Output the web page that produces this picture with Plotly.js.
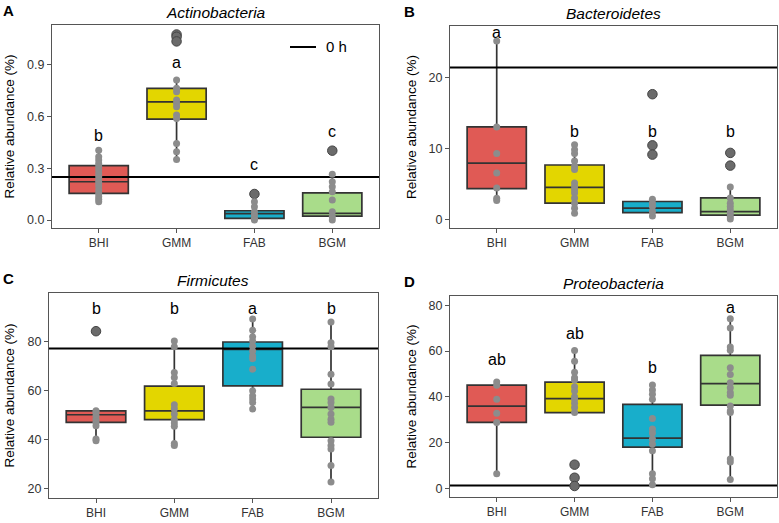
<!DOCTYPE html>
<html><head><meta charset="utf-8">
<script src="https://cdn.plot.ly/plotly-3.0.1.min.js"></script>
<style>body{margin:0;background:#fff}#c{width:779px;height:523px}</style>
</head><body><div id="c"></div>
<script>
const groups = ['BHI','GMM','FAB','BGM'];
const colors = ['#E05A55','#E3D600','#18AECB','#A9DC8A'];
const panelTitles = ['Actinobacteria','Bacteroidetes','Firmicutes','Proteobacteria'];
const panelLabels = ['A','B','C','D'];
const zeroH = [0.25, 21.35, 77.2, 1.43];

// Panel A
const actQ1 = [0.155, 0.585, 0.010, 0.023];
const actMed = [0.222, 0.685, 0.037, 0.039];
const actQ3 = [0.315, 0.763, 0.054, 0.158];
const actLo = [0.106, 0.351, 0.0, 0.0];
const actHi = [0.405, 0.811, 0.106, 0.266];
const actPts = [[0.405,0.367,0.348,0.328,0.309,0.29,0.27,0.251,0.232,0.216,0.197,0.174,0.154,0.135,0.12,0.106],
  [0.811,0.763,0.743,0.695,0.676,0.657,0.608,0.589,0.444,0.396,0.351],
  [0.106,0.077,0.048,0.029,0.01,0.0],
  [0.266,0.222,0.193,0.164,0.116,0.048,0.019,0.0]];
const actOut = [[],[1.075,1.062,1.035],[0.151],[0.402]];
const actLetters = ['b','a','c','c'];
const actLetterY = [0.49,0.913,0.324,0.511];

// Panel B
const bacQ1 = [4.3, 2.26, 0.94, 0.57];
const bacMed = [7.9, 4.48, 1.56, 1.08];
const bacQ3 = [13.0, 7.64, 2.5, 3.0];
const bacLo = [2.64, 0.85, 0.47, 0.05];
const bacHi = [25.1, 10.5, 2.83, 4.53];
const bacPts = [[25.1,12.97,9.25,6.5,4.4,2.97,2.64],
  [10.5,9.8,9.25,8.2,7.45,7.0,5.1,4.6,4.15,3.7,3.0,2.26,1.56,0.85],
  [2.83,2.26,1.8,1.08,0.47],
  [4.53,3.0,2.26,1.8,1.3,0.85,0.38,0.05]];
const bacOut = [[],[],[17.6,10.4,9.1],[9.34,7.55]];
const bacLetters = ['a','b','b','b'];
const bacLetterY = [26.3,12.3,12.3,12.3];

// Panel C
const firQ1 = [47.1, 48.2, 62.0, 41.0];
const firMed = [50.2, 51.8, 76.9, 53.2];
const firQ3 = [51.8, 61.9, 79.9, 60.6];
const firLo = [39.6, 37.6, 52.5, 22.7];
const firHi = [51.8, 80.3, 89.3, 88.1];
const firPts = [[51.8,51.1,49.8,48.4,47.1,45.7,40.3,39.6],
  [80.3,78.0,67.4,65.4,63.0,54.3,52.6,50.5,48.2,46.8,45.5,38.5,37.6],
  [89.3,84.7,82.0,80.3,78.2,76.2,74.2,73.1,68.8,60.0,57.9,56.6,55.2,52.5],
  [88.1,79.6,78.0,66.7,62.7,56.6,55.2,53.2,50.5,48.4,47.1,39.6,37.6,36.2,29.5,22.7]];
const firOut = [[84.3],[],[],[]];
const firLetters = ['b','b','a','b'];
const firLetterY = [93.5,93.5,93.5,93.5];

// Panel D
const proQ1 = [28.9, 33.2, 18.1, 36.4];
const proMed = [36.0, 39.3, 22.1, 45.8];
const proQ3 = [45.2, 46.5, 36.8, 58.1];
const proLo = [6.5, 33.2, 1.7, 4.0];
const proHi = [46.5, 60.2, 45.2, 74.1];
const proPts = [[46.5,45.1,39.0,32.9,28.9,6.5],
  [60.2,55.6,50.8,48.4,47.4,44.5,42.6,40.1,39.0,37.3,35.4,33.2],
  [45.2,43.0,41.2,39.0,30.6,26.0,24.3,21.7,19.5,16.6,6.5,4.3,1.7],
  [74.1,70.0,61.8,60.4,52.7,49.8,46.2,44.0,41.9,40.7,36.1,33.9,33.2,13.0,11.6,4.0]];
const proOut = [[],[10.5,4.8,1.2],[],[]];
const proLetters = ['ab','ab','b','a'];
const proLetterY = [56.3,67.8,52.7,78.9];

const yTicks = [[0,0.3,0.6,0.9],[0,10,20],[20,40,60,80],[0,20,40,60,80]];
const yRanges = [[-0.046,1.13],[-1.23,27.2],[16.2,99.9],[-3.6,84.0]];

const panels = [
  {q1:actQ1,med:actMed,q3:actQ3,lo:actLo,hi:actHi,pts:actPts,out:actOut,let:actLetters,ly:actLetterY},
  {q1:bacQ1,med:bacMed,q3:bacQ3,lo:bacLo,hi:bacHi,pts:bacPts,out:bacOut,let:bacLetters,ly:bacLetterY},
  {q1:firQ1,med:firMed,q3:firQ3,lo:firLo,hi:firHi,pts:firPts,out:firOut,let:firLetters,ly:firLetterY},
  {q1:proQ1,med:proMed,q3:proQ3,lo:proLo,hi:proHi,pts:proPts,out:proOut,let:proLetters,ly:proLetterY}
];

const W = 779, H = 523;
// pixel boxes [left, right, top, bottom]
const boxes = [[52,379,25,228],[450,777,26,228],[49,378,293,498],[450,777,296,497]];
const FONT = 'Liberation Sans, Arial, sans-serif';
const traces = [];
const annotations = [];
const shapes = [];
const layout = {
  width: W, height: H, margin:{l:0,r:0,t:0,b:0},
  paper_bgcolor:'#fff', plot_bgcolor:'#fff', showlegend:false,
  boxmode:'overlay', font:{family:FONT, color:'#333'}
};

panels.forEach((p, i) => {
  const n = i+1;
  const xa = 'x'+(n===1?'':n), ya = 'y'+(n===1?'':n);
  const xk = 'xaxis'+(n===1?'':n), yk = 'yaxis'+(n===1?'':n);
  const [l,r,t,b] = boxes[i];
  layout[xk] = {domain:[l/W, r/W], range:[-0.6,3.6], tickvals:[0,1,2,3], ticktext:groups,
    showline:true, mirror:true, linecolor:'#555', linewidth:1, ticks:'outside', ticklen:4,
    tickcolor:'#555', showgrid:false, zeroline:false, anchor:ya, fixedrange:true,
    tickfont:{size:12, color:'#333', family:FONT}};
  layout[yk] = {domain:[1-b/H, 1-t/H], range:yRanges[i], tickvals:yTicks[i],
    tickformat: i===0 ? '.1f' : 'd',
    showline:true, mirror:true, linecolor:'#555', linewidth:1, ticks:'outside', ticklen:4,
    tickcolor:'#555', showgrid:false, zeroline:false, anchor:xa, fixedrange:true,
    tickfont:{size:12.5, color:'#333', family:FONT}};
  groups.forEach((g, j) => {
    traces.push({type:'box', xaxis:xa, yaxis:ya, x:[j], q1:[p.q1[j]], median:[p.med[j]], q3:[p.q3[j]],
      lowerfence:[p.lo[j]], upperfence:[p.hi[j]], width:0.76, whiskerwidth:0,
      fillcolor:colors[j], line:{color:'#333', width:1.7}, boxpoints:false, hoverinfo:'skip'});
  });
  traces.push({type:'scatter', mode:'lines', xaxis:xa, yaxis:ya, x:[-0.6,3.6], y:[zeroH[i],zeroH[i]],
    line:{color:'#000', width:2}, hoverinfo:'skip'});
  groups.forEach((g, j) => {
    if (p.out[j].length) traces.push({type:'scatter', mode:'markers', xaxis:xa, yaxis:ya,
      x:p.out[j].map(()=>j), y:p.out[j],
      marker:{size:9.5, color:'#6b6b6b', line:{color:'#444', width:1}}, hoverinfo:'skip'});
    traces.push({type:'scatter', mode:'markers', xaxis:xa, yaxis:ya,
      x:p.pts[j].map(()=>j), y:p.pts[j],
      marker:{size:7, color:'#8c8c8c'}, hoverinfo:'skip'});
    annotations.push({xref:xa, yref:ya, x:j, y:p.ly[j], text:p.let[j], showarrow:false,
      font:{size:16, color:'#000', family:FONT}, yanchor:'middle'});
  });
  // title
  annotations.push({xref:'paper', yref:'paper', x:((l+r)/2)/W, y:1-(t-13)/H, text:'<i>'+panelTitles[i]+'</i>',
    showarrow:false, font:{size:15.5, color:'#000', family:FONT}, xanchor:'center', yanchor:'middle'});
  // panel label
  annotations.push({xref:'paper', yref:'paper', x:(i%2===0?1:402)/W, y:1-(t-15)/H, text:'<b>'+panelLabels[i]+'</b>',
    showarrow:false, font:{size:15, color:'#000', family:FONT}, xanchor:'left', yanchor:'middle'});
  // y title
  annotations.push({xref:'paper', yref:'paper', x:(i%2===0?9:411)/W, y:1-((t+b)/2)/H, text:'Relative abundance (%)',
    textangle:-90, showarrow:false, font:{size:13.5, color:'#000', family:FONT}, xanchor:'center', yanchor:'middle'});
});

// legend (panel A)
shapes.push({type:'line', xref:'paper', yref:'paper', x0:290/W, x1:316/W, y0:1-47/H, y1:1-47/H,
  line:{color:'#000', width:2}});
annotations.push({xref:'paper', yref:'paper', x:324/W, y:1-47/H, text:'0 h', showarrow:false,
  xanchor:'left', yanchor:'middle', font:{size:15, color:'#000', family:FONT}});

layout.annotations = annotations;
layout.shapes = shapes;
Plotly.newPlot('c', traces, layout, {displayModeBar:false, staticPlot:true});
</script></body></html>
